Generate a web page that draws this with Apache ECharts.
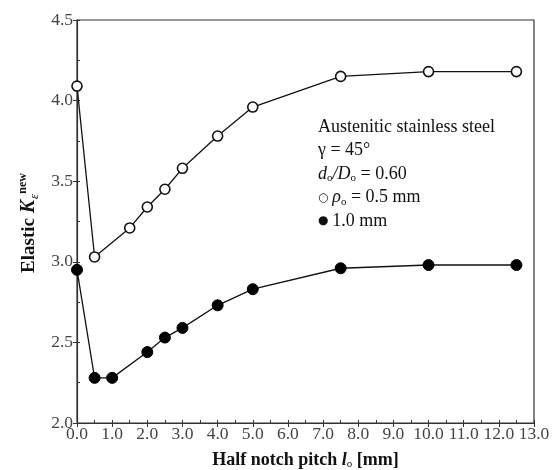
<!DOCTYPE html>
<html><head><meta charset="utf-8">
<script src="https://cdn.jsdelivr.net/npm/echarts@6/dist/echarts.min.js"></script>
<style>html,body{margin:0;padding:0;background:#fff}#c{width:557px;height:470px}</style>
</head><body><div id="c"></div>
<script>
const xOpen = [0, 0.5, 1.5, 2.0, 2.5, 3.0, 4.0, 5.0, 7.5, 10.0, 12.5];
const yOpen = [4.09, 3.03, 3.21, 3.34, 3.45, 3.58, 3.78, 3.96, 4.15, 4.18, 4.18];
const xFilled = [0, 0.5, 1.0, 2.0, 2.5, 3.0, 4.0, 5.0, 7.5, 10.0, 12.5];
const yFilled = [2.95, 2.28, 2.28, 2.44, 2.53, 2.59, 2.73, 2.83, 2.96, 2.98, 2.98];
const legendLines = ['Austenitic stainless steel', 'γ = 45°', 'd/D = 0.60', 'ρ = 0.5 mm', '1.0 mm'];

const font = 'Liberation Serif, Times New Roman, serif';
const chart = echarts.init(document.getElementById('c'));
const pair = (xs, ys) => xs.map((x, i) => [x, ys[i]]);
const tickCol = '#444';
chart.setOption({
  animation: false,
  grid: {left: 77, right: 23, top: 20, bottom: 47, show: true, borderColor: '#333', borderWidth: 1.2,
         containLabel: false, outerBoundsMode: 'none'},
  xAxis: [{
    type: 'value', min: 0, max: 13, interval: 1,
    axisLine: {lineStyle: {color: '#333', width: 1.2}},
    axisTick: {length: 4, lineStyle: {color: '#333'}},
    axisLabel: {color: tickCol, fontFamily: font, fontSize: 17.5, margin: 2, formatter: v => v.toFixed(1), hideOverlap: false},
    splitLine: {show: false},
    name: '{b|Half notch pitch }{i|l}{s|o}{b| [mm]}',
    nameLocation: 'middle', nameGap: 28,
    nameTextStyle: {rich: {
      b: {fontFamily: font, fontWeight: 'bold', fontSize: 18, color: '#111'},
      i: {fontFamily: font, fontWeight: 'bold', fontStyle: 'italic', fontSize: 18, color: '#111'},
      s: {fontFamily: font, fontSize: 11, color: '#111', padding: [8, 0, 0, 0]}
    }}
  }, {
    type: 'value', min: 0, max: 13, interval: 0.5, position: 'bottom',
    axisLine: {show: false}, axisLabel: {show: false}, splitLine: {show: false},
    axisTick: {inside: true, length: 3, lineStyle: {color: '#333'}}
  }],
  yAxis: [{
    type: 'value', min: 2.0, max: 4.5, interval: 0.5,
    axisLine: {show: true, lineStyle: {color: '#333', width: 1.2}},
    axisTick: {show: true, length: 4, lineStyle: {color: '#333'}},
    axisLabel: {color: tickCol, fontFamily: font, fontSize: 17.5, margin: 4, formatter: v => v.toFixed(1)},
    splitLine: {show: false}
  }, {
    type: 'value', min: 2.0, max: 4.5, interval: 0.25, position: 'left',
    axisLine: {show: false}, axisLabel: {show: false}, splitLine: {show: false},
    axisTick: {show: true, inside: true, length: 3, lineStyle: {color: '#333'}}
  }],
  series: [{
    type: 'line', data: pair(xFilled, yFilled),
    symbol: 'circle', symbolSize: 11,
    lineStyle: {color: '#111', width: 1.3},
    itemStyle: {color: '#000', borderColor: '#000', borderWidth: 1}
  }, {
    type: 'line', data: pair(xOpen, yOpen),
    symbol: 'circle', symbolSize: 10,
    lineStyle: {color: '#111', width: 1.3},
    itemStyle: {color: '#fff', borderColor: '#111', borderWidth: 1.6}
  }],
  graphic: [{
    type: 'text', x: 29, y: 223, rotation: Math.PI / 2,
    style: {
      text: '{b|Elastic }{i|K}{s|ε}{p|new}',
      align: 'center', verticalAlign: 'middle',
      rich: {
        b: {fontFamily: font, fontWeight: 'bold', fontSize: 19, fill: '#111'},
        i: {fontFamily: font, fontWeight: 'bold', fontStyle: 'italic', fontSize: 20, fill: '#111'},
        s: {fontFamily: font, fontStyle: 'italic', fontSize: 13, fill: '#111', padding: [11, 0, 0, 1]},
        p: {fontFamily: font, fontWeight: 'bold', fontSize: 12, fill: '#111', padding: [0, 0, 12, 0]}
      }
    }
  }, {
    type: 'text', left: 318, top: 118,
    style: {
      text: [
        '{t|' + legendLines[0] + '}',
        '{t|' + legendLines[1] + '}',
        '{it|d}{sb|o}{it|/D}{sb|o}{t| = 0.60}',
        '{m|○ }{it|ρ}{sb|o}{t| = 0.5 mm}',
        '{m|● }{t|1.0 mm}'
      ].join('\n'),
      fill: '#111',
      rich: {
        t: {fontFamily: font, fontSize: 18, lineHeight: 23.5, fill: '#111'},
        it: {fontFamily: font, fontSize: 18, fontStyle: 'italic', lineHeight: 23.5, fill: '#111'},
        sb: {fontFamily: font, fontSize: 11, lineHeight: 23.5, fill: '#111', padding: [9, 0, 0, 0]},
        m: {fontFamily: 'DejaVu Sans', fontSize: 12, lineHeight: 23.5, fill: '#111'}
      }
    }
  }]
});
</script></body></html>
